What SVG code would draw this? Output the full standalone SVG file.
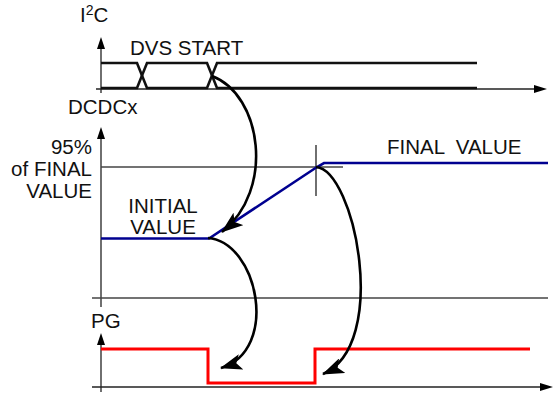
<svg xmlns="http://www.w3.org/2000/svg" width="553" height="395" viewBox="0 0 553 395">
<style>
text{font-family:"Liberation Sans",Arial,sans-serif;font-size:20.5px;fill:#111}
.ax{stroke:#222;stroke-width:1.3;fill:none}
.grid{stroke:#444;stroke-width:1.3;fill:none}
.bus{stroke:#111;stroke-width:2.6;fill:none;stroke-linejoin:miter}
.blue{stroke:#000090;stroke-width:2.6;fill:none}
.red{stroke:#ff0000;stroke-width:3;fill:none}
.cur{stroke:#000;stroke-width:2.6;fill:none}
</style>
<defs>
<marker id="ah" markerWidth="22" markerHeight="16" refX="21" refY="8" orient="auto" markerUnits="userSpaceOnUse"><path d="M0,0 L22,8 L0,16 L5,8 Z" fill="#000"/></marker>
</defs>
<g id="axes">
<path class="ax" d="M101,48 V93"/><path d="M97,49 L101,37 L105,49 Z" fill="#000"/>
<path class="ax" d="M96,89 H534"/><path d="M534,85 L547,89 L534,93 Z" fill="#000"/>
<path class="ax" d="M101,138 V307"/><path d="M97,139 L101,127 L105,139 Z" fill="#000"/>
<path class="grid" d="M92,298 H548"/>
<path class="grid" d="M101,167 H343"/>
<path class="ax" d="M316,145 V196"/>
<path class="ax" d="M101,344 V392"/><path d="M97,345 L101,333 L105,345 Z" fill="#000"/>
<path class="ax" d="M92,387 H541"/><path d="M540,383 L553,387 L540,391 Z" fill="#000"/>
</g>
<g id="i2c-bus">
<path class="bus" d="M101,63 H137 L147,88 H207 L217,63 H477"/>
<path class="bus" d="M101,88 H137 L147,63 H207 L217,88 H477"/>
</g>
<g id="dcdc-signal">
<path class="blue" d="M101,238.5 H209 L317,167 L324,163 H548"/>
</g>
<g id="pg-signal">
<path class="red" d="M101,349 H208 V383 H315 V349 H530"/>
</g>
<g id="connectors">
<path class="cur" d="M212,76 C262,95 275,190 222,232" marker-end="url(#ah)"/>
<path class="cur" d="M208,238 C258,242 280,350 221,368" marker-end="url(#ah)"/>
<path class="cur" d="M316,167 C355,170 390,345 323,374" marker-end="url(#ah)"/>
</g>
<g id="labels">
<text x="80" y="22">I<tspan font-size="14" dy="-7">2</tspan><tspan dy="7">C</tspan></text>
<text x="130" y="55">DVS START</text>
<text x="68" y="114">DCDCx</text>
<text x="92" y="154" text-anchor="end">95%</text>
<text x="92" y="176" text-anchor="end">of FINAL</text>
<text x="92" y="198" text-anchor="end">VALUE</text>
<text x="163" y="213" text-anchor="middle">INITIAL</text>
<text x="163" y="234" text-anchor="middle">VALUE</text>
<text x="387" y="154" xml:space="preserve">FINAL  VALUE</text>
<text x="91" y="328">PG</text>
</g>
</svg>
